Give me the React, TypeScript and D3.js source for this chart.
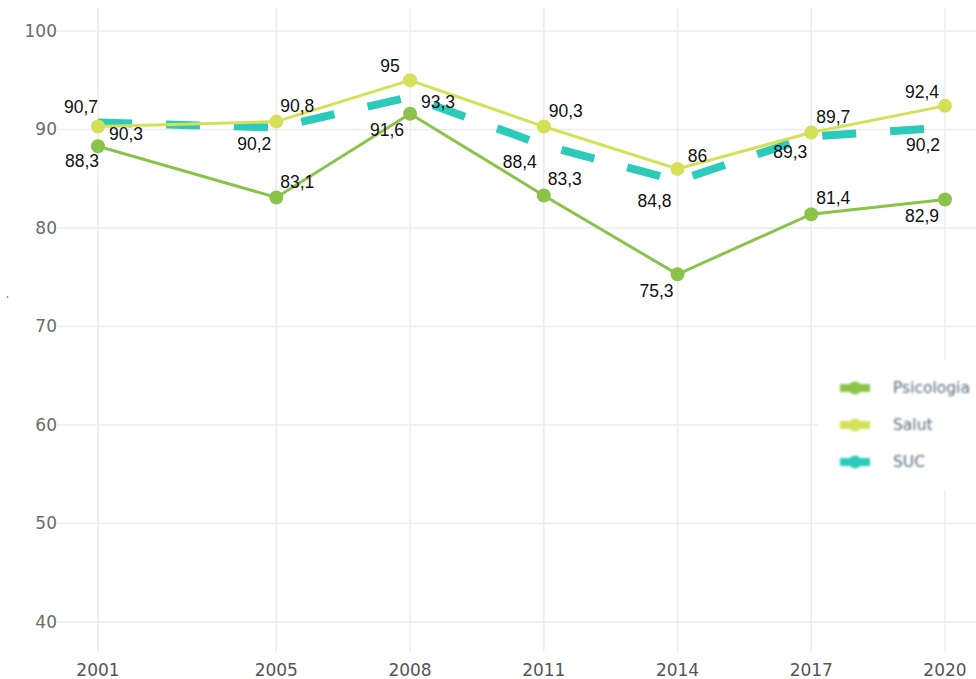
import React from "react";
import * as d3 from "d3";

const years = [2001, 2005, 2008, 2011, 2014, 2017, 2020];
const psicologia = [88.3, 83.1, 91.6, 83.3, 75.3, 81.4, 82.9];
const salut = [90.3, 90.8, 95, 90.3, 86, 89.7, 92.4];
const suc = [90.7, 90.2, 93.3, 88.4, 84.8, 89.3, 90.2];
const yTicks = [40, 50, 60, 70, 80, 90, 100];
const seriesNames = ["Psicologia", "Salut", "SUC"];

// label offsets (layout only)
const psicOff: [number, number][] = [[-16, 15], [21, -16], [-23, 16], [21, -17], [-21, 17], [22, -16], [-23, 16]];
const salutOff: [number, number][] = [[28, 7], [21, -16], [-20, -14], [22, -16], [20, -13], [22, -16], [-23, -14]];
const sucOff: [number, number][] = [[-17, -16], [-22, 16], [28, 5], [-24, 17], [-23, 20], [-21, 15], [-22, 17]];

const W = 976;
const H = 679;
const colors = ["#8bc34a", "#d4e157", "#2ccbb9"];
const fmt = (v: number) => String(v).replace(".", ",");

export default function App() {
  const x = d3.scaleLinear().domain([2001, 2020]).range([98, 945]);
  const y = d3.scaleLinear().domain([40, 100]).range([622, 31]);
  const line = d3
    .line<number>()
    .x((_, i) => x(years[i]))
    .y((d) => y(d));

  const series = [
    { name: seriesNames[0], vals: psicologia, color: colors[0], off: psicOff },
    { name: seriesNames[1], vals: salut, color: colors[1], off: salutOff },
    { name: seriesNames[2], vals: suc, color: colors[2], off: sucOff },
  ];
  const axisFont = "'DejaVu Sans', sans-serif";
  const labelFont = "'Liberation Sans', Arial, sans-serif";

  return (
    <svg width={W} height={H} style={{ position: "absolute", left: 0, top: 0, background: "#fff" }}>
      <defs>
        <filter id="blur" x="-10%" y="-10%" width="120%" height="120%">
          <feGaussianBlur stdDeviation="0.9" />
        </filter>
      </defs>
      {/* grid */}
      {yTicks.map((t) => (
        <line key={"h" + t} x1={57} x2={W} y1={y(t)} y2={y(t)} stroke="#ebebeb" strokeWidth={1.5} />
      ))}
      {years.map((yr) => (
        <line key={"v" + yr} x1={x(yr)} x2={x(yr)} y1={8} y2={652} stroke="#ebebeb" strokeWidth={1.5} />
      ))}
      {/* y labels */}
      {yTicks.map((t) => (
        <text key={"yl" + t} x={57} y={y(t)} dy="0.35em" textAnchor="end" fontFamily={axisFont} fontSize={17} fill="#6b6b6b">
          {t}
        </text>
      ))}
      {/* x labels */}
      {years.map((yr) => (
        <text key={"xl" + yr} x={x(yr)} y={676} textAnchor="middle" fontFamily={axisFont} fontSize={17} fill="#555">
          {yr}
        </text>
      ))}
      <text x={10} y={297} transform="rotate(-90 10 297)" textAnchor="middle" fontSize={8} fill="#2c3e50" fontFamily={axisFont}>
        -
      </text>
      {/* lines */}
      <path d={line(suc) || ""} fill="none" stroke={colors[2]} strokeWidth={8} strokeDasharray="34 34" />
      <path d={line(psicologia) || ""} fill="none" stroke={colors[0]} strokeWidth={3} />
      <path d={line(salut) || ""} fill="none" stroke={colors[1]} strokeWidth={3} />
      {/* markers */}
      {series.slice(0, 2).map((s) =>
        s.vals.map((v, i) => <circle key={s.name + i} cx={x(years[i])} cy={y(v)} r={7} fill={s.color} />)
      )}
      {/* labels */}
      {series.map((s) =>
        s.vals.map((v, i) => (
          <text
            key={"lb" + s.name + i}
            x={x(years[i]) + s.off[i][0]}
            y={y(v) + s.off[i][1]}
            dy="0.35em"
            textAnchor="middle"
            fontFamily={labelFont}
            fontSize={17.5}
            fill="#111"
          >
            {fmt(v)}
          </text>
        ))
      )}
      {/* legend */}
      <rect x={818} y={360} width={158} height={130} fill="#fff" />
      <g filter="url(#blur)">
        {series.map((s, i) => {
          const ly = 388 + i * 37;
          return (
            <g key={"lg" + s.name}>
              <line x1={840} x2={870} y1={ly} y2={ly} stroke={s.color} strokeWidth={8} />
              <circle cx={855} cy={ly} r={6.5} fill={s.color} />
              <text x={893} y={ly} dy="0.35em" fontFamily={axisFont} fontSize={15.5} fill="#5b6b78">
                {s.name}
              </text>
            </g>
          );
        })}
      </g>
    </svg>
  );
}
